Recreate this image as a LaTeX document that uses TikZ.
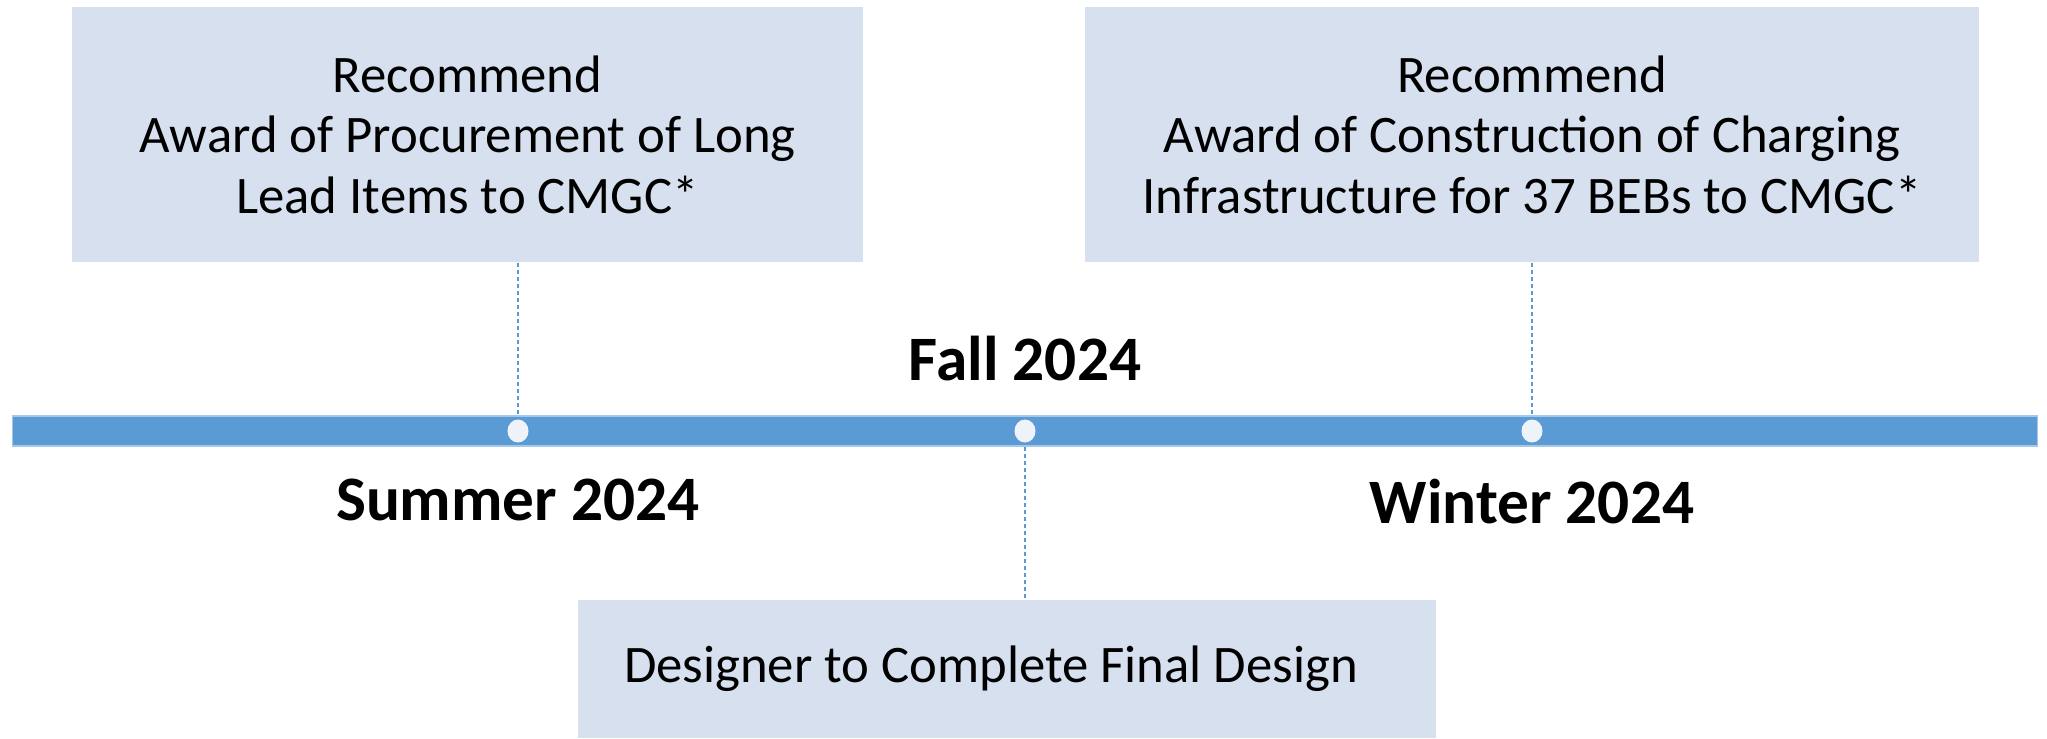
\documentclass[tikz,border=0pt]{standalone}
\usepackage{fontspec}
\setmainfont{Carlito}
\usetikzlibrary{positioning}
\usetikzlibrary{shapes.geometric}
\definecolor{barblue}{HTML}{5B9BD5}
\definecolor{boxblue}{HTML}{D6E0EE}
\definecolor{dotwhite}{HTML}{EEF3FA}

\begin{document}
\begin{tikzpicture}[x = 0.01cm, y = -0.01cm,
task/.style = {shape = rectangle, fill = boxblue, inner sep = 0, align = center, font = \fontsize{15pt}{17.2pt}\selectfont},
season/.style = {inner sep = 0, font = \fontsize{18pt}{21pt}\selectfont\bfseries},
axis/.style = {shape = rectangle, fill = barblue, draw = barblue!55!white, line width = 0.3pt, minimum width = 20.24cm, minimum height = 0.3cm, inner sep = 0},
dot/.style = {shape = ellipse, fill = dotwhite, minimum width = 0.21cm, minimum height = 0.23cm, inner sep = 0},
link/.style = {draw = barblue, line width = 0.35pt, dash pattern = on 0.04cm off 0.03cm},
]
\useasboundingbox (0, 0) rectangle (2047, 738);

\node[task, minimum width = 7.91cm, minimum height = 2.55cm] (award1) at (467.5, 134.5) {Recommend\\Award of Procurement of Long\\Lead Items to CMGC*};
\node[task, minimum width = 8.94cm, minimum height = 2.55cm] (award2) at (1532, 134.5) {Recommend\\Award of Construction of Charging\\Infrastructure for 37 BEBs to CMGC*};
\node[task, minimum width = 8.58cm, minimum height = 1.38cm] (design) at (1007, 669) {Designer to Complete Final Design\hspace{0.32cm}};

\node[axis] (bar) at (1025, 431) {};

\node[dot] (d1) at (518, 431) {};
\node[dot] (d2) at (1025, 431) {};
\node[dot] (d3) at (1532, 431) {};

\draw[link] (d1 |- award1.south) -- (d1 |- bar.north);
\draw[link] (d3 |- award2.south) -- (d3 |- bar.north);
\draw[link] (d2 |- bar.south) -- (d2 |- design.north);

\node[season] (fall) [above = 0.37cm of d2] {Fall 2024};
\node[season] (summer) [below = 0.35cm of d1] {Summer 2024};
\node[season] (winter) [below = 0.35cm of d3] {Winter 2024};
\end{tikzpicture}
\end{document}
